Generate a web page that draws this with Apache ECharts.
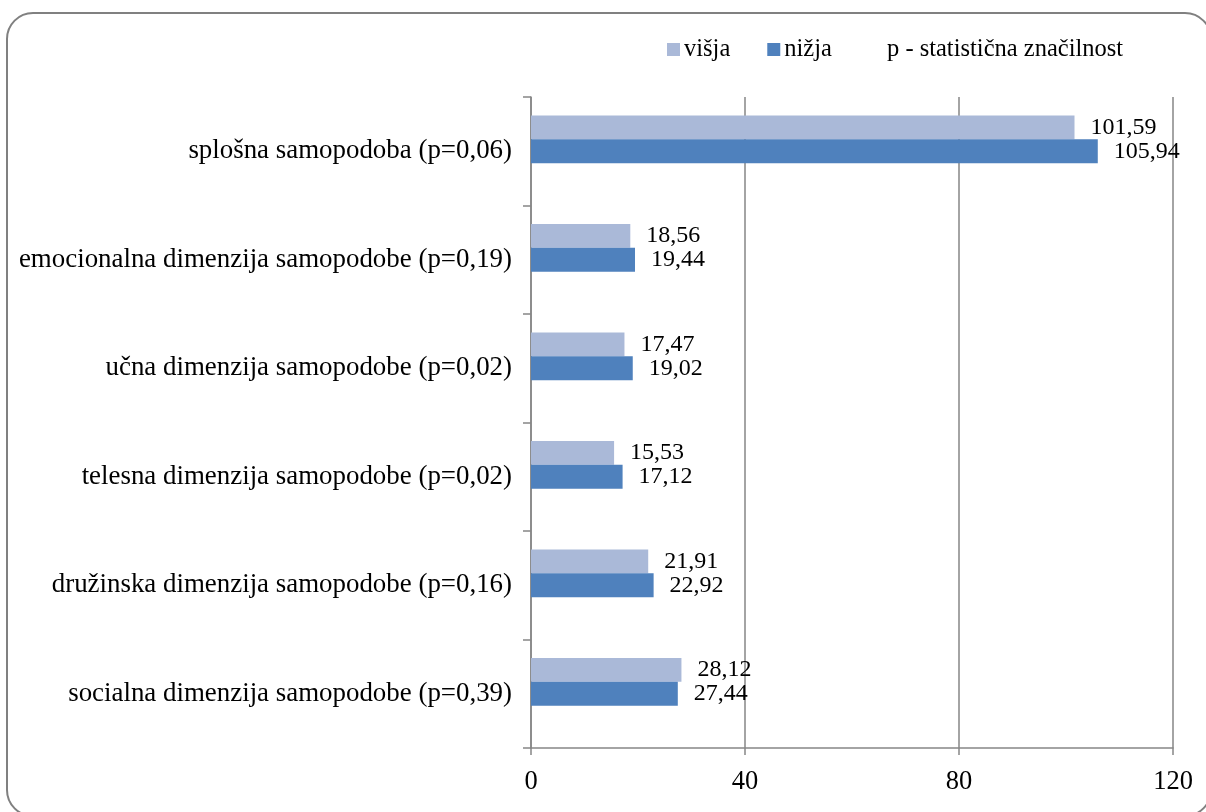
<!DOCTYPE html>
<html>
<head>
<meta charset="utf-8">
<script src="https://cdn.jsdelivr.net/npm/echarts@6/dist/echarts.min.js"></script>
<style>
  html, body { margin: 0; padding: 0; background: #ffffff; }
  #chart { width: 1206px; height: 812px; }
</style>
</head>
<body>
<div id="chart"></div>
<script>
// Dimenzije samopodobe – primerjava skupin (višja / nižja)
const categories = [
  'splošna samopodoba (p=0,06)',
  'emocionalna dimenzija samopodobe (p=0,19)',
  'učna dimenzija samopodobe (p=0,02)',
  'telesna dimenzija samopodobe (p=0,02)',
  'družinska dimenzija samopodobe (p=0,16)',
  'socialna dimenzija samopodobe (p=0,39)'
];
const visja = [101.59, 18.56, 17.47, 15.53, 21.91, 28.12];
const nizja = [105.94, 19.44, 19.02, 17.12, 22.92, 27.44];
// third series carries no bars, only its legend entry
const pZnacilnost = [];
const seriesNames = ['višja', 'nižja', 'p - statistična značilnost'];
const xMin = 0, xMax = 120, xStep = 40;

const serif = '"Liberation Serif", "Times New Roman", serif';
const gray = '#868686';

const fmt = v => Number(v).toFixed(2).replace('.', ',');

const valueLabel = {
  show: true,
  position: 'right',
  distance: 16,
  fontFamily: serif,
  fontSize: 24,
  color: '#000',
  formatter: p => fmt(p.value)
};

const chart = echarts.init(document.getElementById('chart'), null, { renderer: 'canvas' });

chart.setOption({
  backgroundColor: '#ffffff',
  animation: false,
  graphic: [{
    type: 'rect',
    shape: { x: 7, y: 13, width: 1204, height: 803, r: 26 },
    style: { fill: 'none', stroke: '#808080', lineWidth: 2 },
    silent: true
  }],
  legend: [{
    data: [seriesNames[0], seriesNames[1]],
    left: 662,
    top: 32,
    itemWidth: 13,
    itemHeight: 13,
    itemGap: 37,
    icon: 'rect',
    textStyle: { fontFamily: serif, fontSize: 24.5, color: '#000', padding: [0, 0, 0, -1] }
  }, {
    data: [{ name: seriesNames[2], itemStyle: { opacity: 0 } }],
    left: 864,
    top: 32,
    itemWidth: 13,
    itemHeight: 13,
    icon: 'rect',
    textStyle: { fontFamily: serif, fontSize: 24.5, color: '#000' }
  }],
  grid: {
    left: 531,
    right: 33,
    top: 97,
    bottom: 64,
    outerBoundsMode: 'none'
  },
  xAxis: {
    type: 'value',
    min: xMin,
    max: xMax,
    interval: xStep,
    axisLine: { show: true, lineStyle: { color: gray, width: 1.5 } },
    axisTick: { show: true, inside: false, length: 7, lineStyle: { color: gray, width: 1.5 } },
    splitLine: { show: true, lineStyle: { color: gray, width: 1.5 } },
    axisLabel: { fontFamily: serif, fontSize: 26.5, color: '#000', margin: 21 }
  },
  yAxis: {
    type: 'category',
    data: categories,
    inverse: true,
    axisLine: { show: true, lineStyle: { color: gray, width: 1.5 } },
    axisTick: { show: true, inside: false, length: 8, lineStyle: { color: gray, width: 1.5 } },
    axisLabel: { fontFamily: serif, fontSize: 26.9, color: '#000', margin: 19 },
    splitLine: { show: false }
  },
  series: [{
    name: seriesNames[0],
    type: 'bar',
    data: visja,
    barGap: '0%',
    barCategoryGap: '34%',
    itemStyle: { color: '#AAB9D8' },
    label: valueLabel
  }, {
    name: seriesNames[1],
    type: 'bar',
    data: nizja,
    barGap: '0%',
    barCategoryGap: '34%',
    itemStyle: { color: '#4F81BD' },
    label: valueLabel
  }, {
    name: seriesNames[2],
    type: 'bar',
    data: pZnacilnost,
    barGap: '0%',
    barCategoryGap: '34%',
    itemStyle: { color: 'transparent' }
  }]
});
</script>
</body>
</html>
